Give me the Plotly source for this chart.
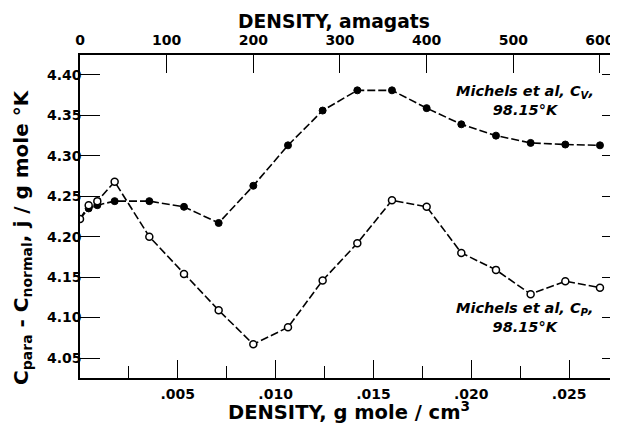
import plotly.graph_objects as go

# Data (density in amagats, Cpara - Cnormal in j/g mole K)
amagat = [0, 10, 20, 40, 80, 120, 160, 200, 240, 280, 320, 360, 400, 440, 480, 520, 560, 600]
cv = [4.222, 4.235, 4.239, 4.244, 4.244, 4.237, 4.217, 4.263, 4.313, 4.356, 4.381, 4.381,
      4.359, 4.339, 4.325, 4.316, 4.314, 4.313]
cp = [4.222, 4.239, 4.244, 4.268, 4.200, 4.154, 4.109, 4.067, 4.088, 4.146, 4.192, 4.245,
      4.237, 4.180, 4.159, 4.129, 4.145, 4.137]

y_ticks = [4.05, 4.10, 4.15, 4.20, 4.25, 4.30, 4.35, 4.40]
y_ticktext = ["4.05", "4.10", "4.15", "4.20", "4.25", "4.30", "4.35", "4.40"]
top_ticks = [0, 100, 200, 300, 400, 500, 600]
bottom_ticks = [0.005, 0.010, 0.015, 0.020, 0.025]
bottom_ticktext = [".005", ".010", ".015", ".020", ".025"]

FONT = "DejaVu Sans"
BLACK = "black"

fig = go.Figure()

line_style = dict(color=BLACK, width=1.6, dash="8px,3px")

fig.add_trace(go.Scatter(
    x=amagat, y=cv, xaxis="x2", yaxis="y", mode="lines+markers",
    line=line_style,
    marker=dict(symbol="circle", size=7, color=BLACK, line=dict(color=BLACK, width=1)),
    showlegend=False, hoverinfo="skip"))

fig.add_trace(go.Scatter(
    x=amagat, y=cp, xaxis="x2", yaxis="y", mode="lines+markers",
    line=line_style,
    marker=dict(symbol="circle", size=7, color="white", line=dict(color=BLACK, width=1.5)),
    showlegend=False, hoverinfo="skip"))

# invisible anchors so that the secondary axes are drawn
fig.add_trace(go.Scatter(x=[0.01], y=[4.2], xaxis="x", yaxis="y", mode="markers",
                         marker=dict(opacity=0), showlegend=False, hoverinfo="skip"))
fig.add_trace(go.Scatter(x=[100], y=[4.2], xaxis="x2", yaxis="y2", mode="markers",
                         marker=dict(opacity=0), showlegend=False, hoverinfo="skip"))

tickfont = dict(family=FONT, size=14, color=BLACK)

fig.update_layout(
    width=610, height=415,
    margin=dict(l=72, r=0, t=47, b=45, autoexpand=False),
    paper_bgcolor="white", plot_bgcolor="white",
    xaxis=dict(
        range=[0, 0.0275], showgrid=False, zeroline=False, automargin=False,
        showline=True, linecolor=BLACK, linewidth=1.5,
        ticks="inside", ticklen=18, tickwidth=1.2, tickcolor=BLACK,
        tickvals=bottom_ticks, ticktext=["<b>%s</b>" % t for t in bottom_ticktext],
        tickfont=tickfont, ticklabelstandoff=2,
        minor=dict(tickvals=[0.0025, 0.0075, 0.0125, 0.0175, 0.0225],
                   ticks="inside", ticklen=12, tickwidth=1.2, tickcolor=BLACK, showgrid=False),
    ),
    xaxis2=dict(
        range=[0, 620.8], overlaying="x", side="top", anchor="y", automargin=False,
        showgrid=False, zeroline=False,
        showline=True, linecolor=BLACK, linewidth=1.5,
        ticks="inside", ticklen=18, tickwidth=1.2, tickcolor=BLACK,
        tickvals=top_ticks, ticktext=["<b>%d</b>" % t for t in top_ticks],
        tickfont=tickfont, ticklabelstandoff=3,
    ),
    yaxis=dict(
        range=[4.0253, 4.4247], showgrid=False, zeroline=False, automargin=False,
        showline=True, linecolor=BLACK, linewidth=1.5,
        ticks="inside", ticklen=20, tickwidth=1.2, tickcolor=BLACK,
        tickvals=y_ticks, ticktext=["<b>%s</b>" % t for t in y_ticktext], tickfont=tickfont,
        ticklabelstandoff=-6,
    ),
    yaxis2=dict(
        range=[4.0253, 4.4247], overlaying="y", side="right", anchor="x", automargin=False,
        showgrid=False, zeroline=False, showline=False,
        ticks="inside", ticklen=16, tickwidth=1.2, tickcolor=BLACK,
        tickvals=y_ticks, showticklabels=False,
    ),
)

annotations = [
    dict(text="<b>DENSITY, amagats</b>", x=0.472, y=1.105),
    dict(text="<b>DENSITY, g mole / cm<sup>3</sup></b>", x=0.5, y=-0.102),
    dict(text="<b>C<sub>para</sub> - C<sub>normal</sub>, j / g mole °K</b>", x=-0.108, y=0.4365,
         textangle=-90),
    dict(text="<b><i>Michels et al, C<sub>V</sub>,<br>98.15°K</i></b>", x=0.827, y=0.8576),
    dict(text="<b><i>Michels et al, C<sub>P</sub>,<br>98.15°K</i></b>", x=0.827, y=0.1858),
]
sizes = [18.7, 19.5, 20, 14.5, 14.5]
for a, s in zip(annotations, sizes):
    a.update(xref="paper", yref="paper", showarrow=False, align="center",
             xanchor="center", yanchor="middle",
             font=dict(family=FONT, size=s, color=BLACK))
fig.update_layout(annotations=annotations)

fig.write_html("out.html")
